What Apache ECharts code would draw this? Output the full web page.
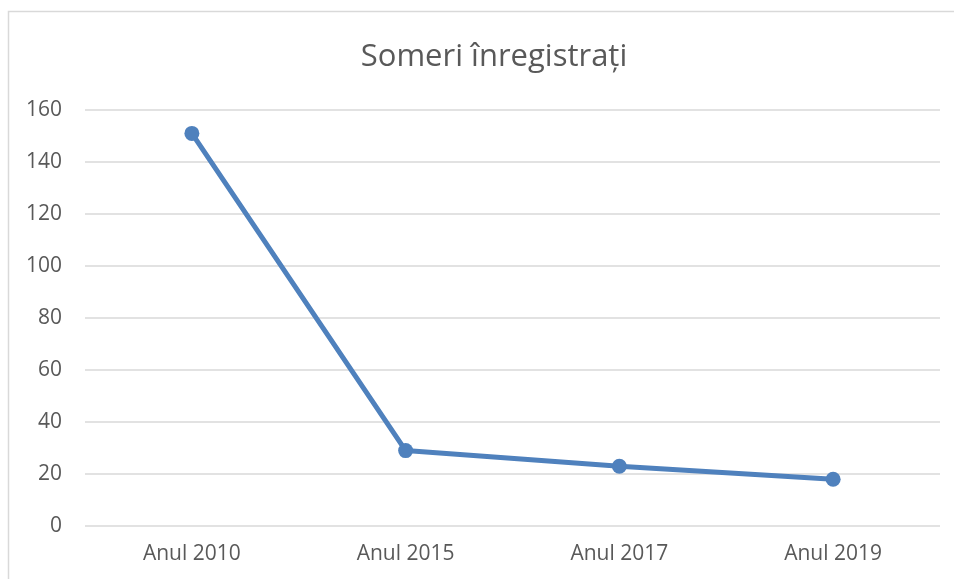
<!DOCTYPE html>
<html><head><meta charset="utf-8">
<script src="https://cdn.jsdelivr.net/npm/echarts@6/dist/echarts.min.js"></script>
<style>html,body{margin:0;padding:0;background:#fff}#c{width:954px;height:579px}</style>
</head><body><div id="c"></div>
<script>
const categories = ['Anul 2010', 'Anul 2015', 'Anul 2017', 'Anul 2019'];
const values = [151, 29, 23, 18];
const yTicks = [0, 20, 40, 60, 80, 100, 120, 140, 160];
const titleText = 'Someri înregistrați';

const chart = echarts.init(document.getElementById('c'), null, {renderer: 'canvas'});
chart.setOption({
  animation: false,
  backgroundColor: '#fff',
  title: {
    text: titleText, left: 489, top: 37, textAlign: 'center',
    textStyle: {fontFamily: 'Open Sans', fontSize: 31, fontWeight: 'normal', color: '#595959'}
  },
  graphic: [{
    type: 'rect', shape: {x: 8.5, y: 11.5, width: 1000, height: 1000},
    style: {fill: 'none', stroke: '#d9d9d9', lineWidth: 1.5}, silent: true, z: 0
  }],
  grid: {left: 85, right: 14, top: 110, bottom: 53, containLabel: false},
  xAxis: {
    type: 'category', data: categories, boundaryGap: true,
    axisLine: {show: false}, axisTick: {show: false},
    axisLabel: {margin: 18, fontFamily: 'Open Sans', fontSize: 21, color: '#595959'}
  },
  yAxis: {
    type: 'value', min: yTicks[0], max: yTicks[yTicks.length - 1], interval: 20,
    axisLine: {show: false}, axisTick: {show: false},
    axisLabel: {margin: 23, fontFamily: 'Open Sans', fontSize: 21, color: '#595959'},
    splitLine: {lineStyle: {color: '#d9d9d9', width: 1.5}}
  },
  series: [{
    type: 'line', data: values, symbol: 'circle', symbolSize: 15,
    lineStyle: {color: '#4f81bd', width: 5},
    itemStyle: {color: '#4f81bd'}
  }]
});
</script></body></html>
